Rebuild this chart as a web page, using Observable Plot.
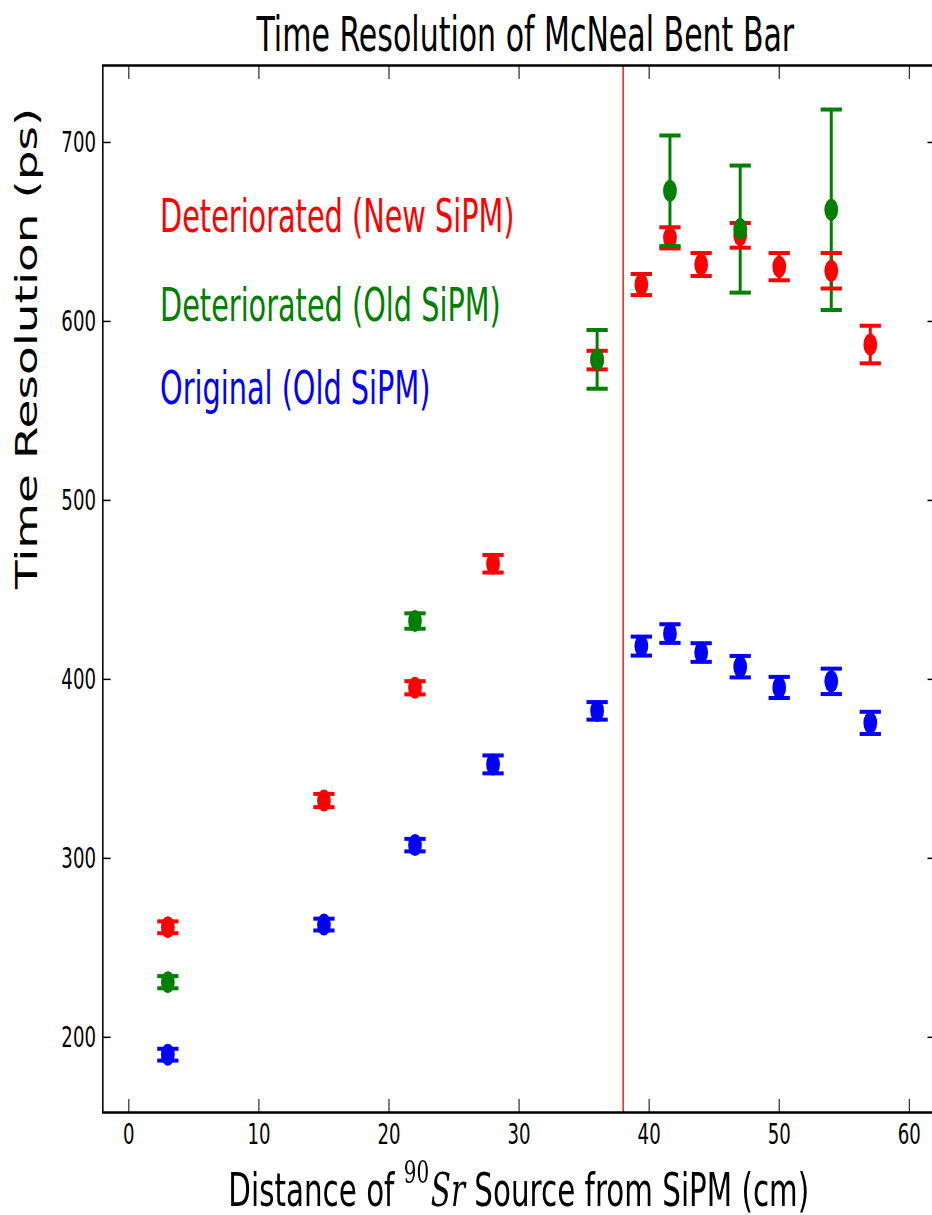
<!DOCTYPE html>
<html>
<head>
<meta charset="utf-8">
<script src="https://cdn.jsdelivr.net/npm/d3@7"></script>
<script src="https://cdn.jsdelivr.net/npm/@observablehq/plot@0.6"></script>
<style>
html, body { margin: 0; padding: 0; overflow: hidden; background: #fff; }
#wrap { width: 1500px; transform: scaleX(0.625); transform-origin: 0 0; font-family: "DejaVu Sans", sans-serif; }
#xlabel { margin-left: 164px; width: 1332px; text-align: center; font-size: 47px; line-height: 60px; color: #000; white-space: nowrap; }
#xlabel .m { font-family: "DejaVu Serif", serif; }
#xlabel sup { font-size: 0.68em; vertical-align: 0; position: relative; top: -0.72em; margin-right: 0.08em; }
</style>
</head>
<body>
<div id="wrap"></div>
<script>
// ---- data ----
const titleText = "Time Resolution of McNeal Bent Bar";
const yLabelText = "Time Resolution (ps)";
const xLabelParts = ["Distance of ", "90", "Sr", " Source from SiPM (cm)"];
const xTicks = [0, 10, 20, 30, 40, 50, 60];
const yTicks = [200, 300, 400, 500, 600, 700];
const xDomain = [-2, 62];
const yDomain = [158, 743];
const cutX = [38];

const seriesNames = ["Deteriorated (New SiPM)", "Deteriorated (Old SiPM)", "Original (Old SiPM)"];
const seriesColors = ["#ff0000", "#008000", "#0000ff"];
const legendX = [2.4, 2.4, 2.4];
const legendY = [650, 600, 554];

const redX   = [3, 15, 22, 28, 36, 39.4, 41.6, 44, 47, 50, 54, 57];
const redY   = [261.5, 332.3, 395.3, 464.6, 578.4, 620.6, 646.7, 631.8, 648.1, 630.6, 628.3, 587.1];
const redErr = [3.3, 3.7, 3.7, 4.9, 5.2, 5.9, 5.9, 6.4, 6.9, 7.6, 9.9, 10.5];

const greenX   = [3, 22, 36, 41.6, 47, 54];
const greenY   = [230.8, 432.6, 578.8, 673.0, 651.6, 662.4];
const greenErr = [3.4, 4.3, 16.4, 30.9, 35.5, 56.0];

const blueX   = [3, 15, 22, 28, 36, 39.4, 41.6, 44, 47, 50, 54, 57];
const blueY   = [190.3, 263.0, 307.4, 352.5, 382.4, 418.6, 425.6, 415.0, 407.1, 395.5, 398.9, 375.7];
const blueErr = [3.3, 3.3, 3.5, 5.0, 4.9, 5.3, 5.2, 5.2, 6.0, 5.9, 7.1, 6.2];

// ---- build tables ----
const rowsOf = (X, Y, E) => X.map((x, i) => ({x, y: Y[i], e: E[i]}));
const red = rowsOf(redX, redY, redErr);
const green = rowsOf(greenX, greenY, greenErr);
const blue = rowsOf(blueX, blueY, blueErr);

// horizontal cap symbol for error bars
const capSymbol = {
  draw(ctx, size) {
    const w = Math.sqrt(size / Math.PI);
    ctx.moveTo(-w, 0);
    ctx.lineTo(w, 0);
  }
};

const stem = (rows, color) => Plot.ruleX(rows, {x: "x", y1: d => d.y - d.e, y2: d => d.y + d.e, stroke: color, strokeWidth: 4.8});
const caps = (rows, color) => [
  Plot.dot(rows, {x: "x", y: d => d.y - d.e, symbol: capSymbol, r: 17, stroke: color, strokeWidth: 4, fill: "none"}),
  Plot.dot(rows, {x: "x", y: d => d.y + d.e, symbol: capSymbol, r: 17, stroke: color, strokeWidth: 4, fill: "none"})
];
const markers = (rows, color) => Plot.dot(rows, {x: "x", y: "y", r: 11, fill: color, stroke: "none"});

const legendMarks = seriesNames.map((name, i) =>
  Plot.text([name], {x: () => legendX[i], y: () => legendY[i], text: d => d, fill: seriesColors[i],
    textAnchor: "start", lineAnchor: "bottom", fontSize: 46})
);

const chart = Plot.plot({
  width: 1500,
  height: 1160,
  marginLeft: 164,
  marginRight: 4,
  marginTop: 65,
  marginBottom: 48,
  x: {domain: xDomain},
  y: {domain: yDomain},
  style: {fontFamily: "DejaVu Sans, sans-serif", background: "white", color: "black", overflow: "visible"},
  marks: [
    Plot.ruleX(cutX, {stroke: "#ff0000", strokeWidth: 2.2}),
    // stems first
    stem(blue, seriesColors[2]),
    stem(red, seriesColors[0]),
    stem(green, seriesColors[1]),
    markers(blue, seriesColors[2]),
    ...caps(blue, seriesColors[2]),
    markers(red, seriesColors[0]),
    ...caps(red, seriesColors[0]),
    markers(green, seriesColors[1]),
    ...caps(green, seriesColors[1]),
    ...legendMarks,
    // axes with inward ticks
    Plot.axisY(yTicks, {anchor: "left", tickSize: -13, tickPadding: 24, fontSize: 29, strokeWidth: 1.5, label: null}),
    Plot.axisY(yTicks, {anchor: "right", tickSize: -13, tickFormat: () => "", strokeWidth: 1.5, label: null}),
    Plot.axisX(xTicks, {anchor: "bottom", tickSize: -13, tickPadding: 24, fontSize: 29, strokeWidth: 1.6, label: null}),
    Plot.axisX(xTicks, {anchor: "top", tickSize: -13, tickFormat: () => "", strokeWidth: 1.6, label: null}),
    Plot.frame({stroke: "black", strokeWidth: 2.5}),
    // title and y label
    Plot.text([titleText], {frameAnchor: "top", text: d => d, lineAnchor: "bottom", dy: -15, dx: 10, fontSize: 48, fill: "black"}),
    Plot.text([yLabelText], {frameAnchor: "left", text: d => d, rotate: -90, lineAnchor: "middle", dx: -121, fontSize: 47, fill: "black"})
  ]
});

const wrap = document.getElementById("wrap");
wrap.appendChild(chart);

const xl = document.createElement("div");
xl.id = "xlabel";
xl.append(xLabelParts[0]);
const sup = document.createElement("sup");
sup.className = "m";
sup.textContent = xLabelParts[1];
xl.append(sup);
const it = document.createElement("i");
it.className = "m";
it.textContent = xLabelParts[2];
xl.append(it);
xl.append(xLabelParts[3]);
wrap.appendChild(xl);
</script>
</body>
</html>
